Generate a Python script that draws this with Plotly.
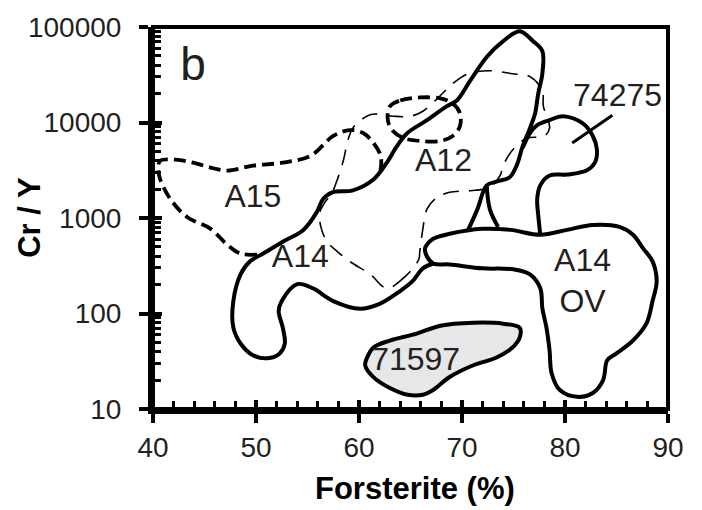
import plotly.graph_objects as go
import numpy as np

# ---------------- data (Forsterite %, Cr/Y) ----------------
# A14 main field outline (solid)
a14_x = [67.2, 66.2, 65.2, 64.0, 62.0, 60.1, 57.5, 55.5, 54.0, 52.5, 52.2, 52.6, 52.8, 52.3, 51.1, 49.7,
         48.5, 47.8, 47.8, 48.5, 49.4, 50.7, 52.6, 54.6, 55.9, 56.5, 57.4, 59.4, 61.4, 62.7, 63.7, 64.7,
         66.6, 68.5, 69.5, 70.8, 72.4, 74.0, 75.6, 76.9, 77.8, 77.8, 77.4, 77.1, 76.6, 75.9, 75.3, 74.6,
         73.4, 72.4, 71.5, 70.6]
a14_y = [334, 297, 218, 172, 126, 112, 135, 184, 203, 135, 106, 71, 48.5, 38.2, 34.0, 36.5,
         48.5, 71, 135, 257, 351, 424, 565, 751, 1153, 1573, 1858, 1950, 2535, 3797, 5690, 7760,
         10580, 14760, 17020, 27420, 48600, 71100, 90300, 71100, 56100, 32400, 20100, 12500, 8740, 5690, 3535, 2656,
         2415, 2195, 1239, 751]

# branch joining the A14 field to the A14 OV field
branch_x = [72.4, 72.7, 73.5]
branch_y = [2195, 1239, 807]

# 74275 field (solid)
s74275_x = [77.6, 77.4, 77.3, 77.6, 78.5, 80.2, 82.1, 82.9, 83.1, 82.7, 81.7, 79.8, 78.5, 77.3, 76.6, 75.9]
s74275_y = [667, 1074, 1573, 2195, 2786, 2853, 3140, 3797, 5175, 7225, 9840, 11640, 10580, 9390, 7760, 5430]

# 74275 label leader
lead_x = [80.7, 84.6]
lead_y = [6110, 11910]

# A14 OV field (solid, closed)
ov_x = [66.6, 67.2, 68.8, 72.0, 74.7, 77.6, 80.2, 82.7, 85.3, 86.6, 87.6, 88.5, 88.9, 88.5, 87.9, 86.6,
        85.0, 84.1, 83.7, 82.7, 81.2, 79.5, 78.7, 78.5, 78.2, 77.8, 77.6, 76.6, 75.0, 72.0, 68.8, 67.2,
        66.6, 66.4, 66.6]
ov_y = [526, 606, 683, 770, 751, 667, 751, 847, 807, 667, 478, 351, 218, 135, 78.2, 52.1,
        38.2, 32.4, 20.1, 14.7, 13.4, 15.8, 23.7, 41.1, 71, 114, 184, 257, 290, 297, 326, 334,
        395, 478, 526]

# 71597 field (filled, closed)
s71597_x = [60.8, 61.4, 63.0, 65.6, 67.9, 71.1, 74.0, 75.6, 75.6, 74.9, 73.4, 71.1, 68.8, 67.2, 66.2,
            64.7, 63.0, 61.4, 60.6, 60.8]
s71597_y = [34.8, 44.1, 52.1, 61.6, 74.5, 80.0, 78.2, 71, 56.0, 44.1, 34.8, 28.7, 21.6, 15.8, 14.1,
            14.1, 16.6, 21.6, 28.7, 34.8]

# A15 field (heavy dashed)
a15_x = [50.1, 48.5, 47.2, 45.6, 43.3, 41.7, 40.7, 40.5, 40.7, 42.2, 43.9, 45.6, 47.2, 49.7, 52.6, 55.3,
         57.5, 59.1, 60.4, 61.4, 62.1, 62.1, 61.9]
a15_y = [414, 424, 526, 770, 1024, 1573, 2535, 3370, 3980, 4080, 3797, 3370, 3140, 3535, 3797, 4485,
         7225, 8330, 7760, 6110, 4485, 3214, 2786]

# small heavy dashed loop
loop_x = [63.0, 64.0, 65.9, 67.9, 69.1, 69.8, 69.8, 69.1, 67.9, 65.9, 64.3, 63.3, 62.8, 63.0]
loop_y = [14760, 17020, 18290, 17870, 15850, 12500, 9170, 7225, 6410, 6410, 6890, 8140, 10580, 14760]

# A12 field (thin long dashed, closed)
a12_x = [65.8, 64.5, 62.7, 61.1, 59.1, 57.9, 56.9, 56.3, 56.2, 56.7, 57.4, 57.9, 58.5, 58.9, 59.4, 60.3,
         61.3, 63.3, 65.0, 66.2, 67.9, 69.1, 70.6, 72.7, 74.9, 76.6, 77.8, 77.9, 78.3, 78.5, 78.0, 76.3,
         75.6, 74.7, 74.0, 73.7, 72.7, 71.3, 68.8, 67.6, 66.6, 66.2, 65.9, 65.8]
a12_y = [368, 245, 184, 257, 351, 445, 565, 807, 1153, 1464, 1858, 2535, 4080, 6410, 8740, 10840,
         12200, 11640, 11640, 13100, 19190, 25530, 32400, 34830, 32400, 30200, 21610, 14760, 11090, 8740, 7225, 6890,
         6110, 4820, 3535, 2786, 2094, 1950, 1858, 1649, 1239, 770, 445, 368]

# labels
label_text = ["A15", "A14", "A12", "74275", "A14<br>OV", "71597"]
label_x = [49.7, 54.3, 68.2, 85.1, 81.7, 65.5]
label_y = [1573, 368, 3797, 17870, 207, 30.9]

panel_text = "b"
panel_x = 43.9
panel_y = 36500

x_ticks = [40, 50, 60, 70, 80, 90]
x_minor = [v for v in range(42, 90, 2) if v % 10 != 0]
y_ticks = [10, 100, 1000, 10000, 100000]
y_ticktext = ["10", "100", "1000", "10000", "100000"]
y_minor = [m * 10 ** k for k in range(1, 5) for m in range(2, 10)]

# ---------------- figure ----------------
FONT = "Liberation Sans, Arial, sans-serif"
TXT = "#231f20"
fig = go.Figure()


def add_line(x, y, width, dash="solid", color="black", fill=None, fillcolor=None, spline=True):
    fig.add_trace(go.Scatter(
        x=x, y=y, mode="lines",
        line=dict(color=color, width=width, dash=dash, shape="spline" if spline else "linear", smoothing=1.0),
        fill=fill, fillcolor=fillcolor, hoverinfo="skip", showlegend=False))


add_line(s71597_x, s71597_y, 4, fill="toself", fillcolor="#e6e7e8")
add_line(a12_x, a12_y, 1.6, dash="16px,10px")
add_line(a15_x, a15_y, 3.8, dash="12px,6px")
add_line(loop_x, loop_y, 3.8, dash="12px,6px")
add_line(a14_x, a14_y, 4)
add_line(branch_x, branch_y, 4)
add_line(s74275_x, s74275_y, 4)
add_line(ov_x, ov_y, 4)
add_line(lead_x, lead_y, 3, spline=False)

fig.add_trace(go.Scatter(
    x=label_x, y=label_y, mode="text", text=label_text, textposition="middle center",
    textfont=dict(family=FONT, size=32, color=TXT), hoverinfo="skip", showlegend=False))
fig.add_trace(go.Scatter(
    x=[panel_x], y=[panel_y], mode="text", text=[panel_text], textposition="middle center",
    textfont=dict(family=FONT, size=46, color=TXT), hoverinfo="skip", showlegend=False))

# invisible trace on overlay axes (inner half of major ticks)
fig.add_trace(go.Scatter(x=[40], y=[10], xaxis="x2", yaxis="y2", mode="markers",
                         marker=dict(opacity=0), hoverinfo="skip", showlegend=False))

axis_common = dict(showgrid=False, zeroline=False, showline=True, linecolor="black", linewidth=5,
                   tickcolor="black", tickfont=dict(family=FONT, size=28, color=TXT))

fig.update_layout(
    width=702, height=510,
    margin=dict(l=153, r=34, t=23, b=101),
    paper_bgcolor="white", plot_bgcolor="white",
    showlegend=False,
    xaxis=dict(range=[40, 90], tickmode="array", tickvals=x_ticks, ticks="outside", ticklen=9, tickwidth=4,
               ticklabelstandoff=0,
               minor=dict(tickmode="array", tickvals=x_minor, ticks="inside", ticklen=8, tickwidth=3,
                          tickcolor="black"),
               **axis_common),
    yaxis=dict(type="log", range=[1, 5], tickmode="array", tickvals=y_ticks, ticktext=y_ticktext,
               ticks="outside", ticklen=9, tickwidth=4, ticklabelstandoff=12,
               minor=dict(tickmode="array", tickvals=y_minor, ticks="inside", ticklen=8, tickwidth=3,
                          tickcolor="black"),
               **axis_common),
    xaxis2=dict(range=[40, 90], overlaying="x", side="bottom", tickmode="array", tickvals=x_ticks,
                ticks="inside", ticklen=9, tickwidth=4, tickcolor="black", showticklabels=False,
                showgrid=False, zeroline=False, showline=False),
    yaxis2=dict(type="log", range=[1, 5], overlaying="y", side="left", tickmode="array", tickvals=y_ticks,
                ticks="inside", ticklen=9, tickwidth=4, tickcolor="black", showticklabels=False,
                showgrid=False, zeroline=False, showline=False),
    shapes=[dict(type="rect", xref="paper", yref="paper", x0=0, y0=0, x1=1, y1=1,
                 line=dict(color="black", width=4), layer="above")],
    annotations=[
        dict(text="<b>Forsterite (%)</b>", xref="paper", yref="paper", x=0.509, y=-0.209,
             xanchor="center", yanchor="middle", showarrow=False, font=dict(family=FONT, size=31, color="black")),
        dict(text="<b>Cr / Y</b>", xref="paper", yref="paper", x=-0.239, y=0.503, textangle=-90,
             xanchor="center", yanchor="middle", showarrow=False, font=dict(family=FONT, size=31, color="black")),
    ],
)

fig.write_html("out.html")
